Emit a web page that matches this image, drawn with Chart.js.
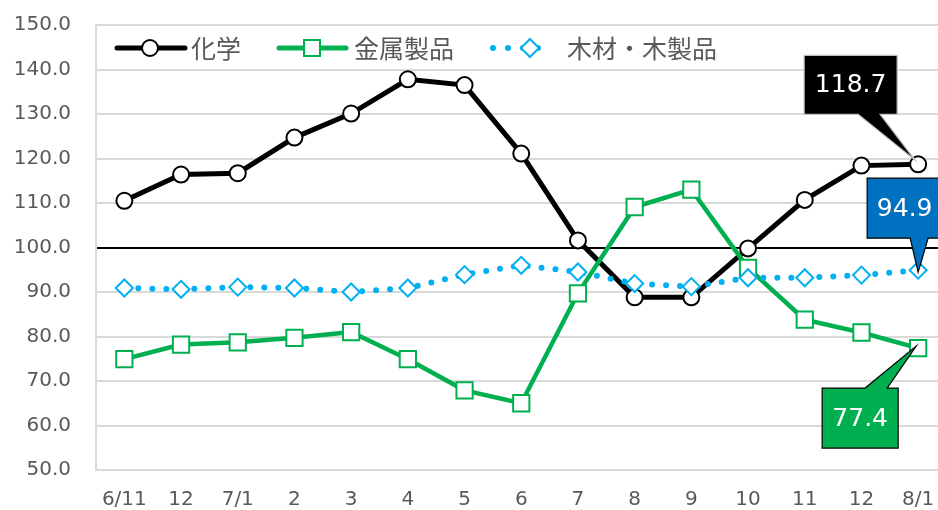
<!DOCTYPE html>
<html><head><meta charset="utf-8">
<script src="https://cdn.jsdelivr.net/npm/chart.js@4/dist/chart.umd.min.js"></script>
<style>html,body{margin:0;padding:0;background:#fff;overflow:hidden}#wrap{position:relative;width:960px;height:510px}</style>
</head><body>
<div id="wrap"><canvas id="c"></canvas></div>
<script>
const categories = ['6/11','12','7/1','2','3','4','5','6','7','8','9','10','11','12','8/1'];
const chemical = [110.5,116.4,116.7,124.7,130.1,137.8,136.5,121.1,101.6,88.8,88.8,99.8,110.7,118.4,118.7];
const metal = [74.9,78.2,78.7,79.7,81.0,74.9,67.9,65.0,89.7,109.1,113.0,95.4,83.8,80.9,77.4];
const wood = [90.9,90.6,91.1,90.9,90.0,90.9,93.9,96.0,94.5,91.9,91.2,93.2,93.2,93.8,94.9];
const seriesNames = ['化学','金属製品','木材・木製品'];
const callouts = ['118.7','77.4','94.9'];

const BLACK='#000000', GREEN='#00B050', BLUE='#00B0F0', DBLUE='#0070C0';
const TXT='#595959';

function drawCallout(ctx, px, py, box, base, tip, fill, stroke, text, textDx){
  ctx.save();
  ctx.beginPath();
  const [l,t,r,b]=box;
  const topSide = base.side==='top';
  ctx.moveTo(px+l,py+t);
  if(topSide){
    ctx.lineTo(px+base.x1,py+t); ctx.lineTo(px+tip[0],py+tip[1]); ctx.lineTo(px+base.x2,py+t);
  }
  ctx.lineTo(px+r,py+t);
  ctx.lineTo(px+r,py+b);
  if(!topSide){
    ctx.lineTo(px+base.x2,py+b); ctx.lineTo(px+tip[0],py+tip[1]); ctx.lineTo(px+base.x1,py+b);
  }
  ctx.lineTo(px+l,py+b);
  ctx.closePath();
  ctx.fillStyle=fill; ctx.fill();
  ctx.lineWidth=1.2; ctx.strokeStyle=stroke; ctx.stroke();
  ctx.fillStyle='#fff';
  ctx.font='25px "DejaVu Sans"';
  ctx.textAlign='center'; ctx.textBaseline='middle';
  ctx.fillText(text, px+(l+r)/2+textDx, py+(t+b)/2+1);
  ctx.restore();
}

const overlay = {
  id:'overlay',
  afterDatasetsDraw(chart){
    const ctx=chart.ctx;
    const last=categories.length-1;
    const pc=chart.getDatasetMeta(0).data[last];
    const pm=chart.getDatasetMeta(1).data[last];
    const pw=chart.getDatasetMeta(2).data[last];
    drawCallout(ctx,pc.x,pc.y,[-114,-109,-21,-50],{side:'bottom',x1:-60,x2:-38},[-3,-4],'#000','#BFBFBF',callouts[0],0);
    drawCallout(ctx,pw.x,pw.y,[-51,-92,24,-32],{side:'bottom',x1:-8,x2:10},[0,2],DBLUE,'#000',callouts[2],0);
    drawCallout(ctx,pm.x,pm.y,[-96,40,-20,100],{side:'top',x1:-53,x2:-31},[-2,-2],GREEN,'#000',callouts[1],0);
  },
  afterDraw(chart){
    const ctx=chart.ctx;
    const y=48;
    ctx.save();
    ctx.lineCap='round';
    ctx.strokeStyle=BLACK; ctx.lineWidth=5;
    ctx.beginPath(); ctx.moveTo(117,y); ctx.lineTo(185,y); ctx.stroke();
    ctx.beginPath(); ctx.arc(150,y,8,0,Math.PI*2); ctx.fillStyle='#fff'; ctx.fill();
    ctx.lineWidth=2; ctx.stroke();
    ctx.strokeStyle=GREEN; ctx.lineWidth=5;
    ctx.beginPath(); ctx.moveTo(279,y); ctx.lineTo(346,y); ctx.stroke();
    ctx.fillStyle='#fff'; ctx.lineWidth=2;
    ctx.fillRect(304,y-8,16,16); ctx.strokeRect(304,y-8,16,16);
    ctx.strokeStyle=BLUE; ctx.lineWidth=6; ctx.setLineDash([0,15]);
    ctx.beginPath(); ctx.moveTo(493,y); ctx.lineTo(553,y); ctx.stroke();
    ctx.setLineDash([]);
    ctx.lineWidth=2; ctx.beginPath();
    ctx.moveTo(521,y); ctx.lineTo(530,y-9); ctx.lineTo(539,y); ctx.lineTo(530,y+9); ctx.closePath();
    ctx.fillStyle='#fff'; ctx.fill(); ctx.stroke();
    ctx.fillStyle=TXT; ctx.font='25px "Noto Sans CJK JP"';
    ctx.textAlign='left'; ctx.textBaseline='middle';
    ctx.fillText(seriesNames[0],191,y);
    ctx.fillText(seriesNames[1],354,y);
    ctx.fillText(seriesNames[2],567,y);
    ctx.restore();
  }
};

new Chart(document.getElementById('c'),{
  type:'line',
  data:{
    labels:categories,
    datasets:[
      {label:seriesNames[0],data:chemical,borderColor:BLACK,borderWidth:5,pointStyle:'circle',pointRadius:8,pointBorderWidth:2,pointBackgroundColor:'#fff',pointBorderColor:BLACK,tension:0,order:3},
      {label:seriesNames[1],data:metal,borderColor:GREEN,borderWidth:4.5,pointStyle:'rect',pointRadius:11.5,pointBorderWidth:2,pointBackgroundColor:'#fff',pointBorderColor:GREEN,tension:0,order:2},
      {label:seriesNames[2],data:wood,borderColor:BLUE,borderWidth:6,borderDash:[0,14],borderCapStyle:'round',pointStyle:'rectRot',pointRadius:8.5,pointBorderWidth:2,pointBackgroundColor:'#fff',pointBorderColor:BLUE,tension:0,order:1}
    ]
  },
  options:{
    responsive:true,maintainAspectRatio:false,animation:false,devicePixelRatio:1,
    layout:{padding:{left:0,right:0,top:25,bottom:-20}},
    plugins:{legend:{display:false},tooltip:{enabled:false}},
    scales:{
      x:{offset:true,grid:{display:false,drawTicks:false},border:{display:false},
         afterFit(s){s.paddingLeft=0;s.paddingRight=0;},
         ticks:{color:TXT,font:{family:'DejaVu Sans',size:20},padding:18,maxRotation:0,autoSkip:false}},
      y:{min:50,max:150,
         afterFit(s){s.width=96;s.paddingTop=0;s.paddingBottom=0;},
         grid:{drawTicks:false,color:c=>c.tick&&c.tick.value===100?'#000':'#D9D9D9',lineWidth:2},
         border:{display:true,color:'#D9D9D9',width:2},
         ticks:{stepSize:10,color:TXT,font:{family:'DejaVu Sans',size:20},padding:25,callback:v=>v.toFixed(1)}}
    }
  },
  plugins:[overlay]
});
</script>
</body></html>
